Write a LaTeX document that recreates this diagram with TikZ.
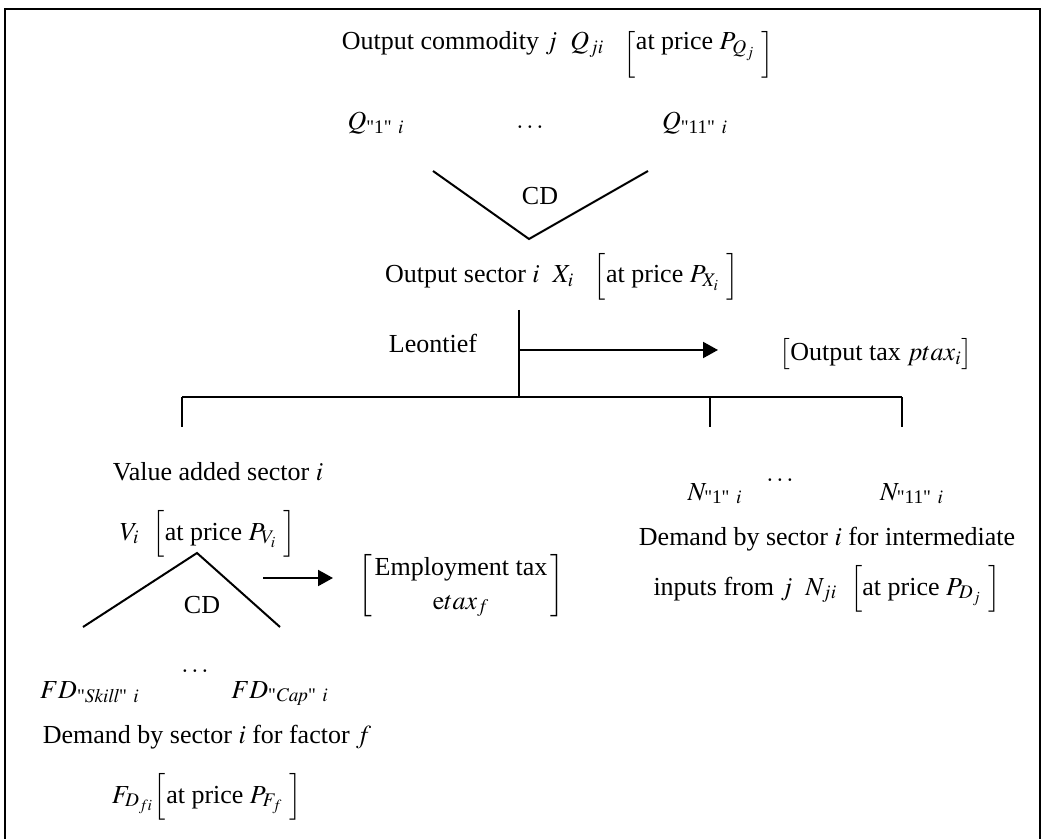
\documentclass[tikz,border=0pt]{standalone}
\usepackage{amsmath}
\usepackage{mathptmx}
\usepackage{fontspec}
\setmainfont{Liberation Serif}
\usetikzlibrary{arrows.meta, positioning}

\newcommand{\qd}{\textquotedbl}
\newcommand{\lowbrack}[1]{\raisebox{-5.5pt}{$\Big#1$}}

\begin{document}
\begin{tikzpicture}[x=0.5pt, y=-0.5pt,
    txt/.style={inner sep=0pt, anchor=base, font=\fontsize{13}{15}\selectfont},
    branch/.style={line width=1pt},
    arrow/.style={-{Triangle[length=7.5pt, width=8pt]}, line width=1pt},
    frame/.style={line width=1.4pt}
  ]
    \useasboundingbox (0,0) rectangle (1043,839);
    \draw[frame] (5,845) -- (5,9) -- (1040,9) -- (1040,845);

    % top nest: commodities
    \node[txt] (comm) at (558,50) {Output commodity $j$\ \ $Q_{ji}$\ \ \ \lowbrack[at price $P_{Q_j}$\ \lowbrack]};
    \node[txt] (qone) at (376,130) {$Q_{\text{\qd1\qd}\ i}$};
    \node[txt] (qdots) at (530,129) {$\ldots$};
    \node[txt] (qeleven) at (695,130) {$Q_{\text{\qd11\qd}\ i}$};
    \node[txt] (cdtop) at (540,205) {CD};
    \coordinate (vl) at (433,171);
    \coordinate (vb) at (529,239);
    \coordinate (vr) at (648,171);
    \draw[branch] (vl) -- (vb) -- (vr);

    % sector output
    \node[txt] (sector) at (562,283) {Output sector $i$\ \ $X_i$\ \ \ $\Big[$at price $P_{X_i}\ \Big]$};
    \node[txt] (leon) at (433,352) {Leontief};
    \node[txt] (otax) at (876,361) {$\big[$Output tax $ptax_i\big]$};
    \coordinate (stemtop) at (519,310);
    \coordinate (stemtax) at (519,350);
    \coordinate (taxtip) at (718,350);
    \coordinate (bar) at (519,397);
    \coordinate (barl) at (182,397);
    \coordinate (barm) at (710,397);
    \coordinate (barr) at (902,397);
    \draw[branch] (stemtop) -- (bar);
    \draw[arrow] (stemtax) -- (taxtip);
    \draw[branch] (barl) -- (barr);
    \foreach \c in {barl,barm,barr}
      \draw[branch] (\c) -- ++(0,30);

    % value added branch
    \node[txt] (vadd) at (218,480) {Value added sector $i$};
    \node[txt] (vprice) at (208,540) {$V_i$\ \ $\Big[$at price $P_{V_i}\ \Big]$};
    \node[txt] (cdlow) at (202,613) {CD};
    \coordinate (al) at (83,627);
    \coordinate (at) at (197,553);
    \coordinate (ar) at (280,627);
    \draw[branch] (al) -- (at) -- (ar);
    \node[inner sep=0pt, font=\fontsize{13}{15}\selectfont] (etax) at (461,586)
      {$\left[\begin{array}{@{\,}c@{\,}}\text{Employment tax}\\[2pt] \mathrm{e}tax_f\end{array}\right]$};
    \coordinate (etaxst) at (263,578);
    \coordinate (etaxtip) at (333,578);
    \draw[arrow] (etaxst) -- (etaxtip);
    \node[txt] (fdskill) at (90,698) {$FD_{\text{\qd}\mathit{Skill}\text{\qd}\ i}$};
    \node[txt] (fddots) at (195,672) {$\ldots$};
    \node[txt] (fdcap) at (280,698) {$FD_{\text{\qd}\mathit{Cap}\text{\qd}\ i}$};
    \node[txt] (fdem) at (207,743) {Demand by sector $i$ for factor $f$};
    \node[txt] (fprice) at (207,803) {$F_{D_{fi}}\Big[$at price $P_{F_f}\ \Big]$};

    % intermediate branch
    \node[txt] (none) at (715,500) {$N_{\text{\qd1\qd}\ i}$};
    \node[txt] (ndots) at (780,481) {$\ldots$};
    \node[txt] (neleven) at (912,500) {$N_{\text{\qd11\qd}\ i}$};
    \node[txt] (ndem) at (827,545) {Demand by sector $i$ for intermediate};
    \node[txt] (ninp) at (827,595) {inputs from $j$\ \ $N_{ji}$\ \ $\Big[$at price $P_{D_j}\ \Big]$};
\end{tikzpicture}
\end{document}
